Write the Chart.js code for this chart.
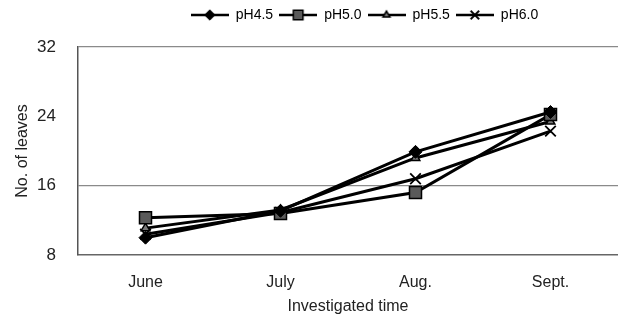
<!DOCTYPE html>
<html lang="en">
<head>
    <meta charset="UTF-8">
    <title>No. of leaves by pH</title>
    <script src="https://cdn.jsdelivr.net/npm/chart.js"></script>
    <style>
        body {
            margin: 0;
            background: #fff;
        }
    </style>
</head>
<body>
    <canvas id="leafChart" width="618" height="316"></canvas>

    <script>
        // Data
        const months = ['June', 'July', 'Aug.', 'Sept.'];
        const ph45 = [10.0, 13.1, 19.9, 24.5];
        const ph50 = [12.3, 12.8, 15.2, 24.2];
        const ph55 = [11.1, 13.2, 19.2, 23.4];
        const ph60 = [10.4, 12.9, 16.8, 22.3];
        const yTicks = [8, 16, 24, 32];

        const FONT = "'Liberation Sans', Arial, sans-serif";

        // legend icon: a short line with the dataset marker in the middle
        function legendIcon(ds) {
            const c = document.createElement('canvas');
            c.width = 38;
            c.height = 16;
            const ctx = c.getContext('2d');
            ctx.strokeStyle = '#000';
            ctx.lineWidth = 2.5;
            ctx.beginPath();
            ctx.moveTo(0, 8);
            ctx.lineTo(38, 8);
            ctx.stroke();
            ctx.fillStyle = ds.pointBackgroundColor;
            ctx.strokeStyle = '#000';
            ctx.lineWidth = ds.pointBorderWidth;
            Chart.helpers.drawPoint(ctx, {
                pointStyle: ds.pointStyle,
                radius: ds.pointRadius * 0.8,
                borderWidth: ds.pointBorderWidth,
                rotation: 0
            }, 19, 8);
            return c;
        }

        // nudge the legend into the place it has in the figure
        const legendShift = {
            id: 'legendShift',
            afterLayout(chart) {
                const lg = chart.legend;
                lg.left += 51;
                lg.right += 51;
                lg.top -= 15;
                lg.bottom -= 15;
            }
        };

        function serie(label, data, style, radius, fill, bw) {
            return {
                label: label,
                data: data,
                borderColor: '#000',
                borderWidth: 3,
                pointStyle: style,
                pointRadius: radius,
                pointHoverRadius: radius,
                pointBackgroundColor: fill,
                pointBorderColor: '#000',
                pointBorderWidth: bw,
                tension: 0,
                fill: false
            };
        }

        const datasets = [
            serie('pH4.5', ph45, 'rectRot', 6.5, '#000', 1),
            serie('pH5.0', ph50, 'rect', 8.5, '#5a5a5a', 1.5),
            serie('pH5.5', ph55, 'triangle', 5, '#777', 1.5),
            serie('pH6.0', ph60, 'crossRot', 7.5, '#000', 1.8)
        ];

        const ctx = document.getElementById('leafChart').getContext('2d');
        const chart = new Chart(ctx, {
            type: 'line',
            data: {
                labels: months,
                datasets: datasets
            },
            options: {
                responsive: false,
                animation: false,
                layout: {
                    autoPadding: false,
                    padding: { left: 9, right: 0, top: 17, bottom: 0 }
                },
                plugins: {
                    legend: {
                        position: 'top',
                        labels: {
                            usePointStyle: true,
                            pointStyleWidth: 38,
                            padding: 6,
                            color: '#222',
                            font: { family: FONT, size: 14 },
                            generateLabels: function (ch) {
                                return ch.data.datasets.map((ds, i) => ({
                                    text: ds.label,
                                    pointStyle: legendIcon(ds),
                                    fillStyle: '#000',
                                    strokeStyle: '#000',
                                    lineWidth: 0,
                                    hidden: false,
                                    datasetIndex: i
                                }));
                            }
                        }
                    },
                    tooltip: { enabled: false }
                },
                scales: {
                    x: {
                        offset: true,
                        grid: { display: false },
                        border: { color: '#666', width: 1.5 },
                        ticks: {
                            color: '#222',
                            padding: 10,
                            font: { family: FONT, size: 16 }
                        },
                        title: {
                            display: true,
                            text: 'Investigated time',
                            color: '#222',
                            padding: { top: 0, bottom: 0 },
                            font: { family: FONT, size: 16 }
                        },
                        afterFit: function (s) {
                            s.height = 61;
                            s.paddingLeft = 0;
                            s.paddingRight = 0;
                        }
                    },
                    y: {
                        min: yTicks[0],
                        max: yTicks[yTicks.length - 1],
                        afterBuildTicks: function (s) {
                            s.ticks = yTicks.map(v => ({ value: v }));
                        },
                        grid: {
                            drawTicks: false,
                            color: c => (c.tick && (c.tick.value === 16 || c.tick.value === 32)) ? '#8a8a8a' : 'rgba(0,0,0,0)',
                            lineWidth: 1.2
                        },
                        border: { color: '#555', width: 1.5 },
                        ticks: {
                            color: '#222',
                            padding: 22,
                            font: { family: FONT, size: 17 }
                        },
                        title: {
                            display: true,
                            text: 'No. of leaves',
                            color: '#222',
                            padding: 4,
                            font: { family: FONT, size: 16 }
                        },
                        afterFit: function (s) {
                            s.width = 69;
                        }
                    }
                }
            },
            plugins: [legendShift]
        });
    </script>
</body>
</html>
